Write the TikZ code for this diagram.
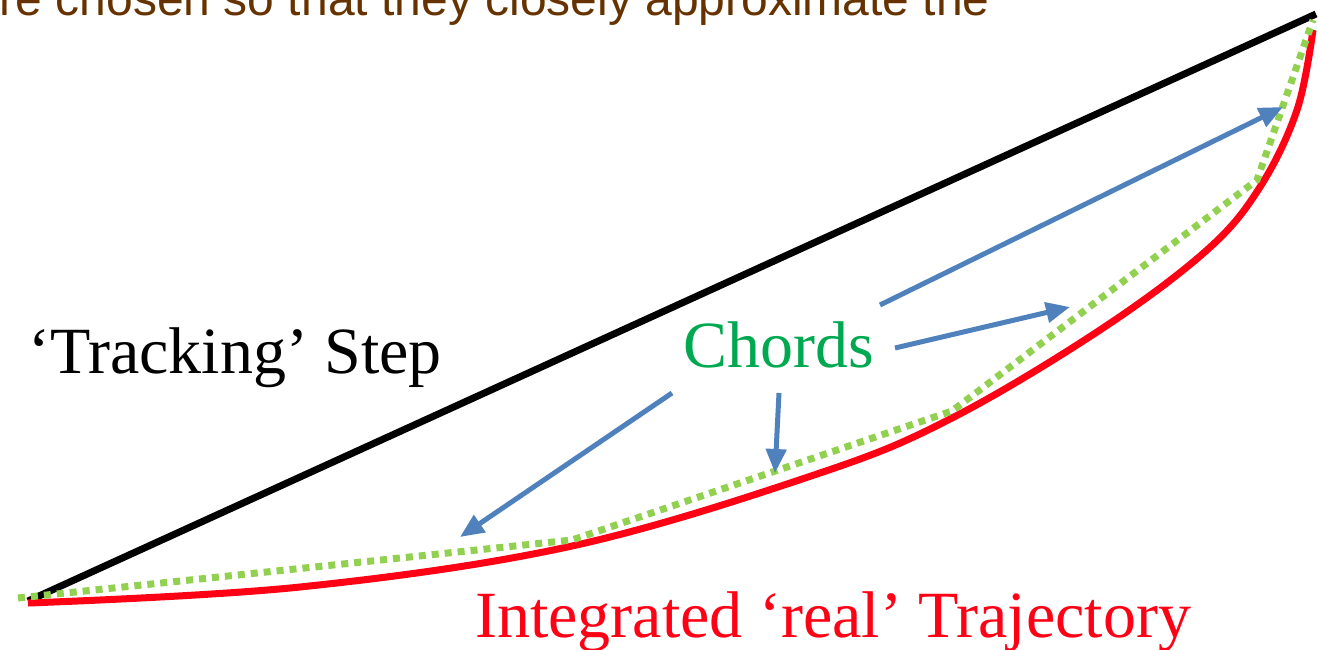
\documentclass[tikz,border=0pt]{standalone}
\usepackage{fontspec}
\setmainfont{Liberation Serif}
\newfontfamily\headfont{Liberation Sans}
\usetikzlibrary{arrows.meta,positioning}
\definecolor{headbrown}{RGB}{102,51,0}
\definecolor{chordgreen}{RGB}{0,168,80}
\definecolor{dotgreen}{RGB}{146,208,80}
\definecolor{pointerblue}{RGB}{79,129,189}
\definecolor{trajred}{RGB}{255,0,20}

\begin{document}
\begin{tikzpicture}[x=1pt,y=-1pt,
  bigtext/.style={font=\fontsize{66}{70}\selectfont, inner sep=0pt, anchor=base west},
  pointer/.style={draw=pointerblue, line width=5pt, -{Triangle[length=24pt,width=20pt]}},
  chord/.style={draw=dotgreen, line width=7pt, dash pattern=on 7pt off 6pt},
  track/.style={draw=black, line width=7pt},
  traj/.style={draw=trajred, line width=7pt}]
  \clip (0,0) rectangle (1318,649);
  % cut-off heading
  \node[inner sep=0pt, anchor=base west, text=headbrown, font=\headfont\fontsize{48}{52}\selectfont] (heading) at (-27,15) {are chosen so that they closely approximate the};
  % labels
  \node[bigtext] (tracking) at (28,373) {‘Tracking’ Step};
  \node[bigtext, text=chordgreen] (chords) at (683,367) {Chords};
  \node[bigtext, text=trajred] (trajectory) at (475,637) {Integrated ‘real’ Trajectory};
  % end points
  \coordinate (origin) at (28,601);
  \coordinate (stepend) at (1316,14);
  \coordinate (cA) at (18,598);
  \coordinate (cB) at (572,540);
  \coordinate (cC) at (952,411);
  \coordinate (cD) at (1257,180);
  \coordinate (cE) at (1313,20);
  % tracking step and real trajectory
  \draw[track] (origin) -- (stepend);
  \draw[traj] plot[smooth, tension=0.6] coordinates {(28,603) (300,587) (572,546) (820,473) (952,418) (1100,330) (1207,250) (1260,187) (1297,110) (1313,30)};
  % chords
  \draw[chord] (cA) -- (cB) -- (cC) -- (cD) -- (cE);
  % pointers from the label
  \coordinate (p1) at (880,305);
  \coordinate (p2) at (895,348);
  \coordinate (p3) at (672,393);
  \coordinate (p4) at (779,393);
  \coordinate (t1) at (1283,107);
  \coordinate (t2) at (1070,307);
  \coordinate (t3) at (460,537);
  \coordinate (t4) at (775,473);
  \draw[pointer] (p1) -- (t1);
  \draw[pointer] (p2) -- (t2);
  \draw[pointer] (p3) -- (t3);
  \draw[pointer] (p4) -- (t4);
\end{tikzpicture}
\end{document}
